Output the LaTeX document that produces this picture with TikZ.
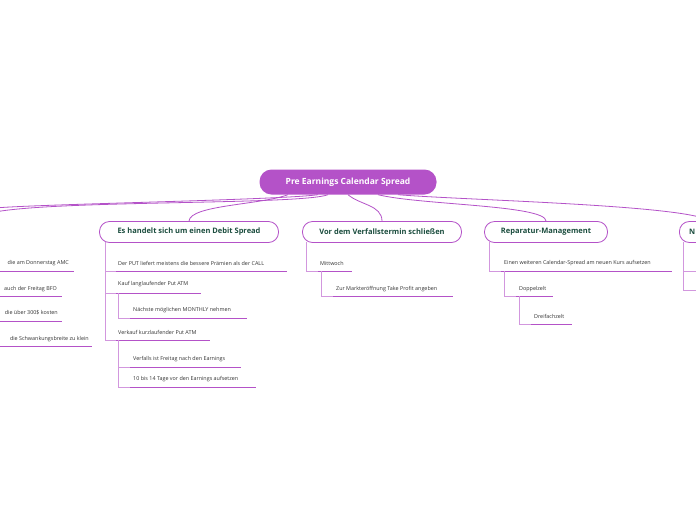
\documentclass[tikz,border=0pt]{standalone}
\usepackage{fontspec}
\setmainfont{Open Sans}
\definecolor{pur}{HTML}{B452C8}
\definecolor{grn}{HTML}{1B4D3E}
\begin{document}
\begin{tikzpicture}[x=1pt,y=-1pt,
 main/.style={draw=pur,line width=0.8pt,rounded corners=10pt,fill=white,text=grn,font=\bfseries\fontsize{7.5}{9}\selectfont,minimum height=21pt,inner xsep=10pt},
 item/.style={anchor=west,font=\fontsize{5.4}{6}\selectfont,text=black!80,inner sep=0pt},
 ul/.style={draw=pur,line width=1pt},
 br/.style={draw=pur!60,line width=0.6pt},
 cv/.style={draw=pur,line width=0.8pt}]
\useasboundingbox (0,0) rectangle (696,520);
\clip (0,0) rectangle (696,520);
\fill[white] (0,0) rectangle (696,520);
% root
\node[fill=pur,text=white,rounded corners=12pt,font=\bfseries\fontsize{8.5}{10}\selectfont,minimum width=177pt,minimum height=25pt] (root) at (348,182) {Pre Earnings Calendar Spread};
\node[main,minimum width=179pt] (a) at (189,232) {Es handelt sich um einen Debit Spread};
\node[main,minimum width=159pt] (b) at (382,232) {Vor dem Verfallstermin schließen};
\node[main,minimum width=123pt] (c) at (546,232) {Reparatur-Management};
\node[draw=pur,line width=0.8pt,rounded corners=10pt,fill=white,anchor=west,minimum width=60pt,minimum height=21pt] (d) at (679,232) {};
\node[anchor=west,text=grn,font=\bfseries\fontsize{7.5}{9}\selectfont,inner sep=0pt] (dt) at (689,232) {N};
\coordinate (lft) at (-5,212);
\draw[cv] (root.south) ++(-60,0) .. controls (260,205) and (190,205) .. (a.north);
\draw[cv] (root.south) ++(-20,0) .. controls (300,205) and (60,200) .. (lft);
\draw[cv] (root.south) ++(-30,0) .. controls (280,200) and (40,204) .. (-5,208);
\draw[cv] (root.south) .. controls (360,205) and (382,205) .. (b.north);
\draw[cv] (root.south) ++(30,0) .. controls (420,205) and (546,205) .. (c.north);
\draw[cv] (root.south) ++(50,0) .. controls (460,200) and (690,205) .. (d.north);
% left partial
\node[item,anchor=east] (l1) at (69,263) {die am Donnerstag AMC};
\draw[ul] (0,271) -- (74,271);
\node[item,anchor=east] (l2) at (57,289) {auch der Freitag BFO};
\draw[ul] (0,296) -- (62,296);
\node[item,anchor=east] (l3) at (58,313) {die über 300\$ kosten};
\draw[ul] (0,321) -- (62,321);
\node[item,anchor=east] (l4) at (89,339) {die Schwankungsbreite zu klein};
\draw[ul] (0,346) -- (92,346);
% a children
\node[item] (a1) at (118,263) {Der PUT liefert meistens die bessere Prämien als der CALL};
\node[item] (a2) at (118,284) {Kauf langlaufender Put ATM};
\node[item] (a21) at (133,310) {Nächste möglichen MONTHLY nehmen};
\node[item] (a3) at (118,332) {Verkauf kurzlaufender Put ATM};
\node[item] (a31) at (133,359) {Verfalls ist Freitag nach den Earnings};
\node[item] (a32) at (133,379) {10 bis 14 Tage vor den Earnings aufsetzen};
\draw[br] (105,242) -- (105,340) -- (116,340);
\draw[br] (105,271) -- (116,271); \draw[br] (105,293) -- (116,293);
\draw[ul] (116,271) -- (287,271); \draw[ul] (116,293) -- (201,293); \draw[ul] (116,340) -- (210,340);
\draw[br] (118,293) -- (118,318) -- (130,318);
\draw[ul] (130,318) -- (247,318);
\draw[br] (118,340) -- (118,387) -- (130,387); \draw[br] (118,367) -- (130,367);
\draw[ul] (130,367) -- (241,367); \draw[ul] (130,387) -- (256,387);
% b children
\node[item] (b1) at (320,263) {Mittwoch};
\node[item] (b11) at (336,289) {Zur Markteröffnung Take Profit angeben};
\draw[br] (306,242) -- (306,271) -- (318,271); \draw[ul] (318,271) -- (352,271);
\draw[br] (321,271) -- (321,296) -- (333,296); \draw[ul] (333,296) -- (453,296);
% c children
\node[item] (c1) at (504,263) {Einen weiteren Calendar-Spread am neuen Kurs aufsetzen};
\node[item] (c11) at (519,289) {Doppelzelt};
\node[item] (c111) at (534,316) {Dreifachzelt};
\draw[br] (489,242) -- (489,271) -- (501,271); \draw[ul] (501,271) -- (672,271);
\draw[br] (504,271) -- (504,296) -- (516,296); \draw[ul] (516,296) -- (553,296);
\draw[br] (519,296) -- (519,324) -- (531,324); \draw[ul] (531,324) -- (572,324);
% d children
\draw[br] (683,242) -- (683,290) -- (696,290); \draw[br] (683,271) -- (696,271);
\end{tikzpicture}
\end{document}
